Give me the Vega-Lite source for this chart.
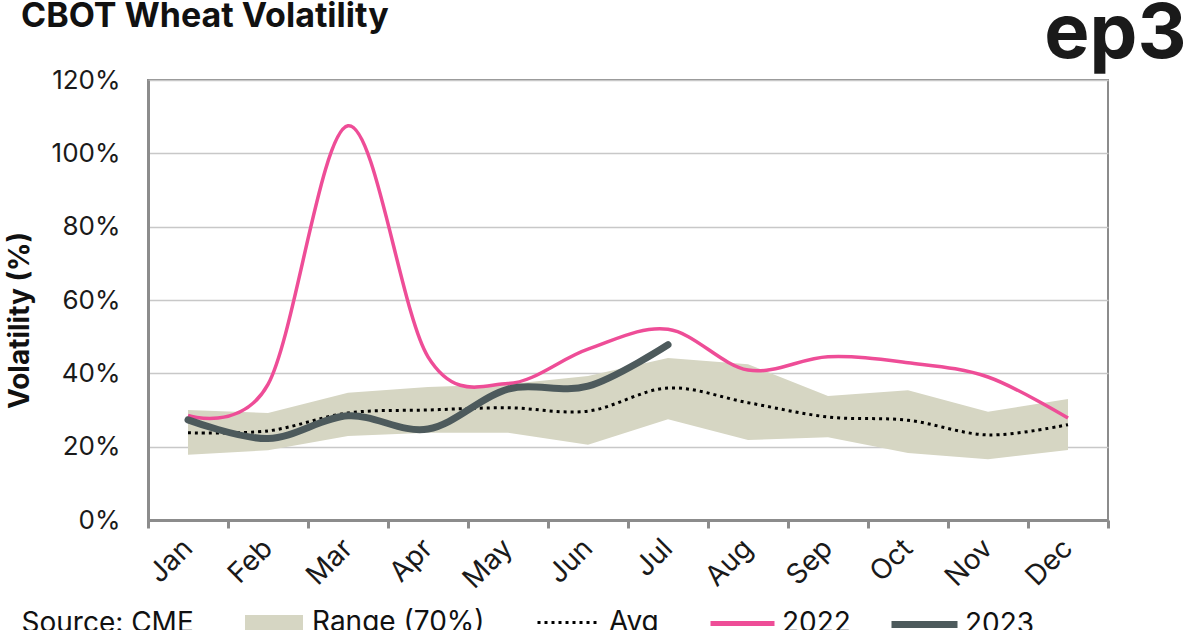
{
  "$schema": "https://vega.github.io/schema/vega-lite/v6.json",
  "width": 960,
  "height": 440,
  "autosize": {"type": "none"},
  "padding": {"left": 148, "top": 80, "right": 92, "bottom": 110},
  "background": "white",
  "title": {
    "text": "CBOT Wheat Volatility",
    "anchor": "start",
    "frame": "group",
    "align": "left",
    "dx": -127,
    "offset": -65,
    "baseline": "alphabetic",
    "fontSize": 34,
    "fontWeight": "bold",
    "font": "Inter",
    "color": "#111111"
  },
  "config": {
    "font": "Inter",
    "view": {"stroke": "#8c8c8c", "strokeWidth": 2}
  },
  "data": {
    "values": [
      {"month": "Jan", "lo": 0.178, "hi": 0.300, "avg": 0.238, "y2022": 0.285, "y2023": 0.273},
      {"month": "Feb", "lo": 0.190, "hi": 0.292, "avg": 0.243, "y2022": 0.370, "y2023": 0.222},
      {"month": "Mar", "lo": 0.229, "hi": 0.347, "avg": 0.292, "y2022": 1.075, "y2023": 0.284},
      {"month": "Apr", "lo": 0.238, "hi": 0.363, "avg": 0.300, "y2022": 0.445, "y2023": 0.248},
      {"month": "May", "lo": 0.238, "hi": 0.370, "avg": 0.306, "y2022": 0.372, "y2023": 0.357},
      {"month": "Jun", "lo": 0.205, "hi": 0.393, "avg": 0.297, "y2022": 0.466, "y2023": 0.365},
      {"month": "Jul", "lo": 0.275, "hi": 0.442, "avg": 0.360, "y2022": 0.520, "y2023": 0.478},
      {"month": "Aug", "lo": 0.218, "hi": 0.425, "avg": 0.320, "y2022": 0.409, "y2023": null},
      {"month": "Sep", "lo": 0.226, "hi": 0.338, "avg": 0.281, "y2022": 0.445, "y2023": null},
      {"month": "Oct", "lo": 0.183, "hi": 0.354, "avg": 0.272, "y2022": 0.429, "y2023": null},
      {"month": "Nov", "lo": 0.166, "hi": 0.295, "avg": 0.232, "y2022": 0.390, "y2023": null},
      {"month": "Dec", "lo": 0.191, "hi": 0.330, "avg": 0.260, "y2022": 0.278, "y2023": null}
    ]
  },
  "layer": [
    {
      "mark": {"type": "area", "interpolate": "linear"},
      "encoding": {
        "x": {
          "field": "month", "type": "ordinal", "sort": null,
          "scale": {"type": "band", "paddingInner": 0, "paddingOuter": 0},
          "axis": {
            "orient": "bottom",
            "labelAngle": -45,
            "labelAlign": "right",
            "labelBaseline": "middle",
            "labelPadding": 16,
            "labelFontSize": 28,
            "labelColor": "#1a1a1a",
            "tickBand": "extent",
            "tickColor": "#8c8c8c",
            "tickWidth": 3,
            "tickSize": 8,
            "domainColor": "#8c8c8c",
            "domainWidth": 3,
            "grid": false,
            "title": "Source: CME",
            "titleX": -127,
            "titleY": 111,
            "titleAlign": "left",
            "titleBaseline": "alphabetic",
            "titleFontSize": 28,
            "titleFontWeight": "normal",
            "titleColor": "#111111"
          }
        },
        "y": {
          "field": "lo", "type": "quantitative",
          "scale": {"domain": [0, 1.2], "nice": false},
          "axis": {
            "values": [0, 0.2, 0.4, 0.6, 0.8, 1.0, 1.2],
            "format": ".0%",
            "ticks": false,
            "labelPadding": 28,
            "labelFontSize": 26,
            "labelColor": "#1a1a1a",
            "gridColor": "#c8c8c8",
            "gridWidth": 1.5,
            "domainColor": "#8c8c8c",
            "domainWidth": 3,
            "title": "Volatility (%)",
            "titleFontSize": 28,
            "titleFontWeight": "bold",
            "titleColor": "#111111",
            "titleX": -114,
            "titleY": 240
          }
        },
        "y2": {"field": "hi"},
        "fill": {
          "datum": "Range (70%)",
          "scale": {"range": ["#d6d6c3"]},
          "legend": {
            "orient": "none", "legendX": 97, "legendY": 514,
            "direction": "horizontal", "title": null, "padding": 0,
            "symbolType": "M-1,-0.28L1,-0.28L1,0.28L-1,0.28Z",
            "symbolSize": 3364, "symbolStrokeWidth": 0, "symbolOpacity": 1,
            "labelOffset": 9, "labelFontSize": 28, "labelLimit": 400, "labelColor": "#111111"
          }
        }
      }
    },
    {
      "mark": {"type": "line", "interpolate": "cardinal", "strokeWidth": 3, "color": "#000000"},
      "encoding": {
        "x": {
          "field": "month", "type": "ordinal", "sort": null,
          "axis": {
            "orient": "top", "labels": false, "ticks": false, "domain": false, "grid": false,
            "title": "ep3",
            "titleFontSize": 76,
            "titleFontWeight": "bold",
            "titleColor": "#1a1a1a",
            "titleAlign": "right",
            "titleBaseline": "alphabetic",
            "titleX": 1038,
            "titleY": -23
          }
        },
        "y": {"field": "avg", "type": "quantitative"},
        "strokeDash": {
          "datum": "Avg",
          "scale": {"range": [[3, 4]]},
          "legend": {
            "orient": "none", "legendX": 388, "legendY": 511,
            "direction": "horizontal", "title": null, "padding": 0,
            "symbolType": "stroke", "symbolSize": 3600,
            "symbolStrokeColor": "#000000", "symbolStrokeWidth": 3,
            "symbolDash": [3, 4],
            "labelOffset": 10, "labelFontSize": 28, "labelLimit": 400, "labelColor": "#111111"
          }
        }
      }
    },
    {
      "mark": {"type": "line", "interpolate": "cardinal", "strokeWidth": 3.5},
      "encoding": {
        "x": {"field": "month", "type": "ordinal", "sort": null, "axis": null},
        "y": {"field": "y2022", "type": "quantitative"},
        "stroke": {
          "datum": "2022",
          "scale": {"range": ["#ee4d97"]},
          "legend": {
            "orient": "none", "legendX": 560, "legendY": 509,
            "direction": "horizontal", "title": null, "padding": 0,
            "symbolType": "stroke", "symbolSize": 4096, "symbolStrokeWidth": 5,
            "labelOffset": 5, "labelFontSize": 28, "labelLimit": 400, "labelColor": "#111111"
          }
        }
      }
    },
    {
      "mark": {"type": "line", "interpolate": "cardinal", "strokeWidth": 7, "strokeCap": "round"},
      "encoding": {
        "x": {"field": "month", "type": "ordinal", "sort": null, "axis": null},
        "y": {"field": "y2023", "type": "quantitative"},
        "color": {
          "datum": "2023",
          "scale": {"range": ["#4d5a5c"]},
          "legend": {
            "orient": "none", "legendX": 740, "legendY": 508,
            "direction": "horizontal", "title": null, "padding": 0,
            "symbolType": "stroke", "symbolSize": 4356, "symbolStrokeWidth": 7,
            "labelOffset": 4, "labelFontSize": 28, "labelLimit": 400, "labelColor": "#111111"
          }
        }
      }
    }
  ],
  "resolve": {"axis": {"x": "independent"}}
}
